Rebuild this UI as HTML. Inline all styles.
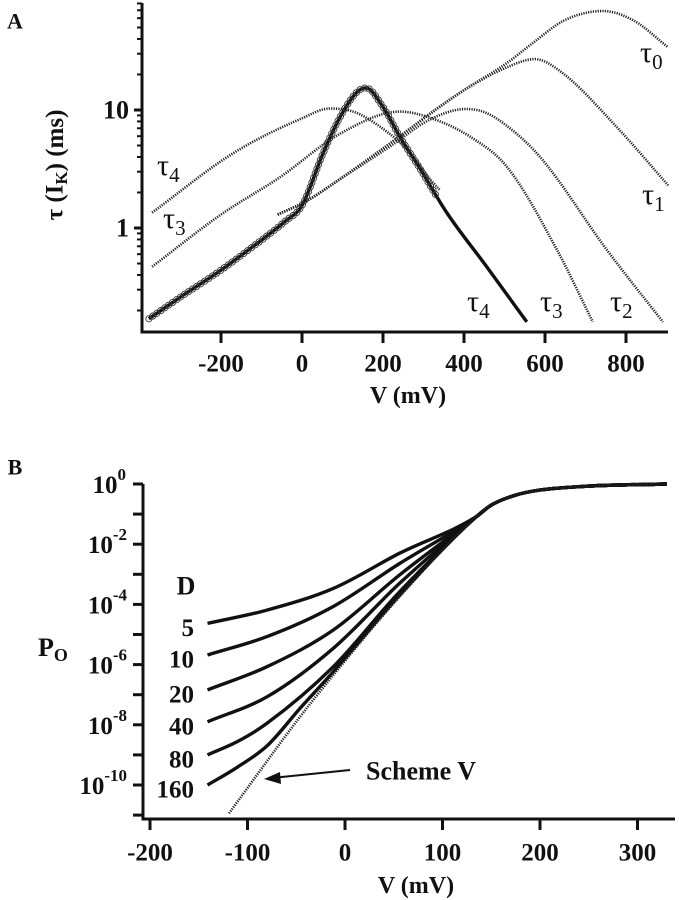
<!DOCTYPE html>
<html><head><meta charset="utf-8"><style>
html,body{margin:0;padding:0;background:#fff}
svg{display:block}
text{font-family:"Liberation Serif",serif;font-weight:bold;fill:#111}
</style></head><body>
<svg id="s" width="679" height="900" viewBox="0 0 679 900"></svg>
<script>
// ---- Panel A data: [V (mV), tau (ms)] ----
const aXTicks = [-200, 0, 200, 400, 600, 800];
const aYMajor = [1, 10];
const tau4Solid = [[-378,0.17],[-300,0.26],[-200,0.44],[-100,0.79],[-40,1.15],[0,1.55],[52,4.3],[94,8.7],[136,14.2],[158,15.4],[200,10.6],[242,5.9],[291,3.2],[358,1.34],[456,0.47],[555,0.16]];
const tau4Dot = [[-370,1.35],[-170,4.3],[0,8.5],[69,10.3],[130,9.6],[193,7.2],[260,4.6],[316,2.6],[340,2.1]];
const tau3Dot = [[-370,0.47],[-200,1.3],[-54,2.7],[94,6.3],[242,9.7],[320,8.5],[420,5.8],[506,3.3],[630,0.65],[718,0.16]];
const tau2Dot = [[-60,1.3],[12,1.7],[94,2.6],[217,4.9],[316,8.3],[405,10.2],[450,9.6],[500,7.6],[588,4.0],[753,0.65],[891,0.16]];
const tau1Dot = [[-60,1.3],[12,1.7],[94,2.6],[217,5.2],[390,14],[506,23],[575,27],[640,21],[780,7],[904,2.3]];
const tau0Dot = [[-60,1.3],[12,1.7],[94,2.6],[217,5.2],[390,14],[506,25],[570,37],[650,58],[743,69],[820,57],[904,34]];
const circleMaxV = 335;
// ---- Panel B data: [V (mV), -log10(Po)] ----
const bXTicks = [-200, -100, 0, 100, 200, 300];
const bYTicks = [0,-2,-4,-6,-8,-10];
const dLabels = ["5","10","20","40","80","160"];
const tail = [[135,1.08],[150,0.7],[175,0.37],[200,0.2],[250,0.07],[330,0.0]];
const curveD5 = [[-141,4.63],[-80,4.19],[-12,3.47],[56,2.3]];
const curveD10 = [[-141,5.68],[-80,5.07],[-12,4.07],[56,2.64]];
const curveD20 = [[-141,6.84],[-80,6.07],[-12,4.85],[56,3.02]];
const curveD40 = [[-141,7.9],[-80,7.07],[-12,5.46],[56,3.3]];
const curveD80 = [[-141,9.0],[-110,8.55],[-80,7.95],[-12,6.07],[56,3.58]];
const curveD160 = [[-141,10.0],[-110,9.4],[-80,8.7],[-46,7.45],[-12,6.24],[56,3.69]];
const schemeV = [[-119,10.94],[-46,7.73],[-12,6.35],[56,3.74]];

const S = document.getElementById('s');
const NS = 'http://www.w3.org/2000/svg';
function el(tag, attrs, parent){const e=document.createElementNS(NS,tag);for(const k in attrs)e.setAttribute(k,attrs[k]);(parent||S).appendChild(e);return e;}
function txt(x,y,s,size,anchor,name){const t=el('text',{x:x,y:y,'font-size':size,'text-anchor':anchor||'middle','dominant-baseline':'central'});t.textContent=s;return t;}

const axX = v => 302 + v*0.405;
const axY = t => 110 - (Math.log10(t)-1)*118;
const bxX = v => 345 + v*0.975;
const byY = n => 484 + n*30.1;

function smooth(pts){
  const n=pts.length, d=[], m=[];
  for(let i=0;i<n-1;i++) d.push((pts[i+1][1]-pts[i][1])/(pts[i+1][0]-pts[i][0]));
  m[0]=d[0]; m[n-1]=d[n-2];
  for(let i=1;i<n-1;i++){ m[i]=(d[i-1]*d[i]<=0)?0:(d[i-1]+d[i])/2; }
  for(let i=0;i<n-1;i++){
    if(d[i]===0){m[i]=0;m[i+1]=0;continue;}
    const a=m[i]/d[i], b=m[i+1]/d[i], h=a*a+b*b;
    if(h>9){const t=3/Math.sqrt(h);m[i]=t*a*d[i];m[i+1]=t*b*d[i];}
  }
  let s='M'+pts[0][0].toFixed(1)+','+pts[0][1].toFixed(1);
  for(let i=0;i<n-1;i++){
    const h=(pts[i+1][0]-pts[i][0])/3;
    s+='C'+(pts[i][0]+h).toFixed(1)+','+(pts[i][1]+m[i]*h).toFixed(1)+' '+(pts[i+1][0]-h).toFixed(1)+','+(pts[i+1][1]-m[i+1]*h).toFixed(1)+' '+pts[i+1][0].toFixed(1)+','+pts[i+1][1].toFixed(1);
  }
  return s;
}
const mapA = arr => arr.map(p=>[axX(p[0]),axY(p[1])]);
const mapB = arr => arr.map(p=>[bxX(p[0]),byY(p[1])]);

// ---------- Panel A ----------
const gA = el('g',{});


txt(15,21,'A',22,'middle','panel-a-label');
const axA = el('path',{d:'M142,3 L142,332 L668,332',fill:'none',stroke:'#111','stroke-width':3},gA);


aXTicks.forEach(v=>{
  const l=el('line',{x1:axX(v),x2:axX(v),y1:332,y2:343,stroke:'#111','stroke-width':3},gA);
  
  
  txt(axX(v),364,String(v),25,'middle','x-tick-label-a');
});
for(let dec=-1;dec<=1;dec++){
  for(let m=1;m<=9;m++){
    const t=m*Math.pow(10,dec);
    const y=axY(t);
    if(y<3||y>332)continue;
    const l=el('line',{x1:m===1?134:137,x2:142,y1:y,y2:y,stroke:'#111','stroke-width':m===1?3:2},gA);
    
    
  }
}
aYMajor.forEach(t=>txt(129,axY(t),String(t),26,'end','y-tick-label-a'));
const yt=el('text',{x:0,y:0,'font-size':25,'text-anchor':'middle','dominant-baseline':'central',transform:'translate(55,165) rotate(-90)'});


yt.innerHTML='τ (I<tspan font-size="17" dy="6">K</tspan><tspan dy="-6">)  (ms)</tspan>';
txt(408,396,'V (mV)',24,'middle','x-axis-title-a');

function dotted(arr,name,g){
  const p=el('path',{d:smooth(mapA(arr)),fill:'none',stroke:'#222','stroke-width':2.6,'stroke-dasharray':'1.2 1.2'},g);
  
  
}
dotted(tau0Dot,'tau0-curve',gA);
dotted(tau1Dot,'tau1-curve',gA);
dotted(tau2Dot,'tau2-curve',gA);
dotted(tau3Dot,'tau3-curve',gA);
dotted(tau4Dot,'tau4-dotted-curve',gA);
const sol=el('path',{d:smooth(mapA(tau4Solid)),fill:'none',stroke:'#111','stroke-width':3.4},gA);


const len=sol.getTotalLength();
const endX=axX(circleMaxV);
for(let s=0;s<len;s+=4.8){
  const pt=sol.getPointAtLength(s);
  if(pt.x>endX)break;
  const c=el('circle',{cx:pt.x,cy:pt.y,r:3.1,fill:'none',stroke:'#333','stroke-width':0.9},gA);
  
  
}
function tauLabel(x,y,sub,name){
  const t=el('text',{x:x,y:y,'font-size':30,'text-anchor':'start'});
  
  
  t.style.fontWeight='normal';
  t.innerHTML='τ<tspan font-size="21" dy="7">'+sub+'</tspan>';
}
tauLabel(640,62,'0','tau0-label');
tauLabel(642,204,'1','tau1-label');
tauLabel(610,311,'2','tau2-label');
tauLabel(540,311,'3','tau3-label-right');
tauLabel(467,311,'4','tau4-label-right');
tauLabel(157,175,'4','tau4-label-left');
tauLabel(163,228,'3','tau3-label-left');

// ---------- Panel B ----------
const gB = el('g',{});


txt(15,467,'B',22,'middle','panel-b-label');
const axB = el('path',{d:'M143,484 L143,819 L675,819',fill:'none',stroke:'#111','stroke-width':3},gB);


for(let n=0;n<=11;n++){
  const l=el('line',{x1:133,x2:143,y1:byY(n),y2:byY(n),stroke:'#111','stroke-width':3},gB);
  
  
}
bYTicks.forEach(e=>{
  const t=el('text',{x:e===0?126:127,y:byY(-e)+9,'font-size':25,'text-anchor':'end'},gB);
  
  
  t.innerHTML='10<tspan font-size="17" dy="-13">'+e+'</tspan>';
});
bXTicks.forEach(v=>{
  const l=el('line',{x1:bxX(v),x2:bxX(v),y1:819,y2:830,stroke:'#111','stroke-width':3},gB);
  
  
  txt(bxX(v),853,String(v),25,'middle','x-tick-label-b');
});
txt(416,886,'V (mV)',24,'middle','x-axis-title-b');
const po=el('text',{x:38,y:656,'font-size':26,'text-anchor':'start'},gB);


po.innerHTML='P<tspan font-size="18" dy="5">O</tspan>';
txt(186,586,'D',26,'middle','d-legend-title');
const dCurves=[curveD5,curveD10,curveD20,curveD40,curveD80,curveD160];
dCurves.forEach((c,i)=>{
  const p=el('path',{d:smooth(mapB(c.concat(tail))),fill:'none',stroke:'#111','stroke-width':3.4},gB);
  
  
  txt(194,byY(c[0][1])+5,dLabels[i],25,'end','d-label-'+dLabels[i]);
});
const sv=el('path',{d:smooth(mapB(schemeV.concat(tail))),fill:'none',stroke:'#222','stroke-width':2.6,'stroke-dasharray':'1.2 1.2'},gB);


const ar=el('line',{x1:350,y1:770,x2:272,y2:778,stroke:'#111','stroke-width':2},gB);


const ah=el('polygon',{points:'264,779 280,772 281,784',fill:'#111'},gB);


txt(366,771,'Scheme V',26,'start','scheme-v-label');
</script>
</body></html>
